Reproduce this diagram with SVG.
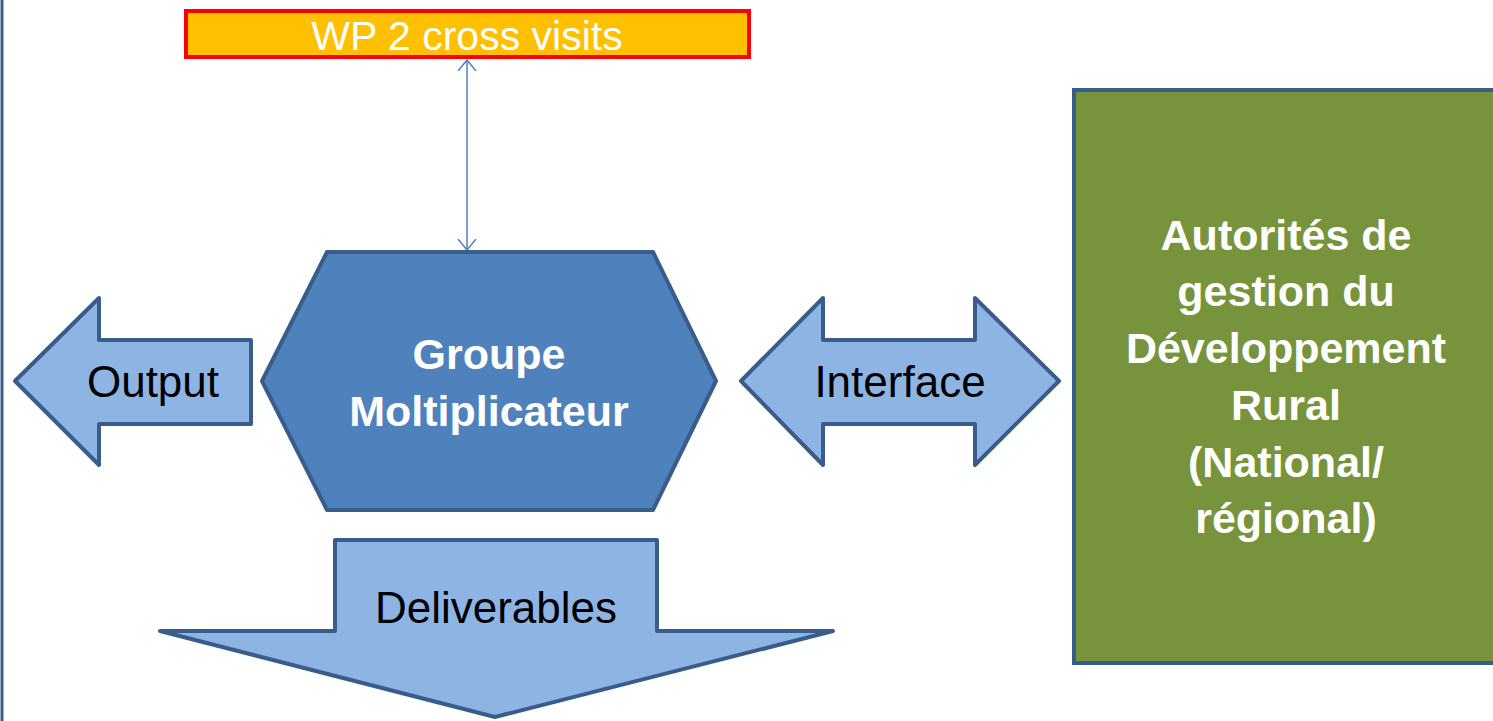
<svg xmlns="http://www.w3.org/2000/svg" width="1493" height="721" viewBox="0 0 1493 721">
  <defs>
    <style>
      .arrowShape { fill: #8EB4E3; stroke: #385D8A; stroke-width: 4; stroke-linejoin: round; }
      .dark { fill: #000000; font-family: "Liberation Sans", Arial, sans-serif; font-size: 44px; text-anchor: middle; }
      .white { fill: #FFFFFF; font-family: "Liberation Sans", Arial, sans-serif; text-anchor: middle; }
      .bold { font-weight: bold; font-size: 43px; }
    </style>
    <marker id="openHead" viewBox="0 0 12 20" refX="11" refY="10" markerWidth="12" markerHeight="20" markerUnits="userSpaceOnUse" orient="auto-start-reverse">
      <path d="M0,1 L11,10 L0,19" fill="none" stroke="#4F81BD" stroke-width="1.5"/>
    </marker>
  </defs>
  <rect width="1493" height="721" fill="#FFFFFF"/>
  <line x1="2" y1="0" x2="2" y2="721" stroke="#3A5F8F" stroke-width="3"/>

  <g id="connectors">
    <line x1="467" y1="60" x2="467" y2="250" stroke="#4F81BD" stroke-width="1.5" marker-start="url(#openHead)" marker-end="url(#openHead)"/>
  </g>

  <g id="wp2">
    <rect x="186" y="11" width="563" height="46" fill="#FFC000" stroke="#FF0000" stroke-width="4"/>
    <text x="467" y="50" class="white" font-size="41">WP 2 cross visits</text>
  </g>

  <g id="groupe">
    <polygon points="327,252 653,252 716,381 653,510 327,510 262,381" fill="#4F81BD" stroke="#385D8A" stroke-width="4" stroke-linejoin="round"/>
    <text x="489" y="369" class="white bold">Groupe</text>
    <text x="489" y="426" class="white bold">Moltiplicateur</text>
  </g>

  <g id="output">
    <polygon class="arrowShape" points="15,381 99,298 99,340 251,340 251,424 99,424 99,465"/>
    <text x="153" y="397" class="dark">Output</text>
  </g>

  <g id="interface">
    <polygon class="arrowShape" points="741,381 823,298 823,340 975,340 975,298 1059,381 975,465 975,424 823,424 823,465"/>
    <text x="900" y="397" class="dark">Interface</text>
  </g>

  <g id="deliverables">
    <polygon class="arrowShape" points="335,540 657,540 657,631 833,631 495,717 160,631 335,631"/>
    <text x="496" y="623" class="dark">Deliverables</text>
  </g>

  <g id="autorites">
    <rect x="1074" y="90" width="430" height="573" fill="#77933C" stroke="#385D8A" stroke-width="4"/>
    <text class="white bold" x="1286" y="250">Autorités de</text>
    <text class="white bold" x="1286" y="306">gestion du</text>
    <text class="white bold" x="1286" y="363">Développement</text>
    <text class="white bold" x="1286" y="420">Rural</text>
    <text class="white bold" x="1286" y="477">(National/</text>
    <text class="white bold" x="1286" y="533">régional)</text>
  </g>
</svg>
